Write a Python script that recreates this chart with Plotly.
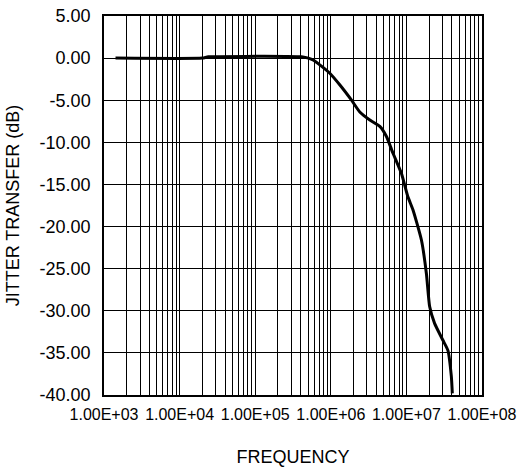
import plotly.graph_objects as go

# Data
frequency = [1.42e3, 2.0e4, 2.4e4, 2.5e5, 4.1e5, 5.9e5, 9.7e5, 1.32e6, 1.88e6,
             2.42e6, 3.28e6, 4.45e6, 5.45e6, 6.65e6, 8.6e6, 1.05e7, 1.22e7,
             1.58e7, 1.84e7, 2.03e7, 2.36e7, 3.04e7, 3.54e7, 3.93e7, 4.05e7]
jitter_db = [0.0, 0.0, 0.15, 0.2, 0.15, -0.25, -1.8, -3.2, -5.0,
             -6.4, -7.35, -8.1, -9.3, -11.3, -13.7, -16.5, -18.0,
             -21.6, -25.6, -29.5, -31.5, -33.5, -34.7, -37.8, -39.8]

x_tick_vals = [1e3, 1e4, 1e5, 1e6, 1e7, 1e8]
x_tick_text = ["1.00E+03", "1.00E+04", "1.00E+05", "1.00E+06", "1.00E+07", "1.00E+08"]
y_tick_vals = [5, 0, -5, -10, -15, -20, -25, -30, -35, -40]
y_tick_text = ["5.00", "0.00", "-5.00", "-10.00", "-15.00", "-20.00",
               "-25.00", "-30.00", "-35.00", "-40.00"]

minor_vals = [k * 10 ** n for n in range(3, 8) for k in range(2, 10)]

FONT = "Liberation Sans, Arial, sans-serif"

fig = go.Figure()
fig.add_trace(go.Scatter(
    x=frequency, y=jitter_db, mode="lines",
    line=dict(color="black", width=3, shape="spline", smoothing=0.5),
    showlegend=False,
))

fig.update_layout(
    width=524, height=470,
    margin=dict(l=103.5, r=41.5, t=16, b=75),
    paper_bgcolor="white", plot_bgcolor="white",
    font=dict(family=FONT, color="black"),
)

fig.update_xaxes(
    type="log", range=[3, 8],
    tickvals=x_tick_vals, ticktext=x_tick_text,
    tickfont=dict(size=16, family=FONT, color="black"),
    showgrid=True, gridcolor="black", gridwidth=1,
    minor=dict(tickvals=minor_vals, showgrid=True, gridcolor="black", gridwidth=1, ticks=""),
    showline=True, linecolor="black", linewidth=1.5, mirror=True,
    ticks="", ticklabelstandoff=4, ticklabeloverflow="allow",
    title=dict(text="FREQUENCY", font=dict(size=18, family=FONT, color="black"), standoff=28),
    zeroline=False, automargin=False,
)
fig.update_yaxes(
    range=[-40, 5],
    tickvals=y_tick_vals, ticktext=y_tick_text,
    tickfont=dict(size=18, family=FONT, color="black"),
    showgrid=True, gridcolor="black", gridwidth=1,
    showline=True, linecolor="black", linewidth=1.5, mirror=True,
    ticks="", ticklabelstandoff=8, ticklabeloverflow="allow",
    title=dict(text="JITTER TRANSFER (dB)", font=dict(size=18, family=FONT, color="black"), standoff=15),
    zeroline=False, automargin=False,
)

fig.write_html(
    "out.html",
    config={"displayModeBar": False},
    post_script="document.body.style.margin='0'; document.body.style.overflow='hidden';",
)
